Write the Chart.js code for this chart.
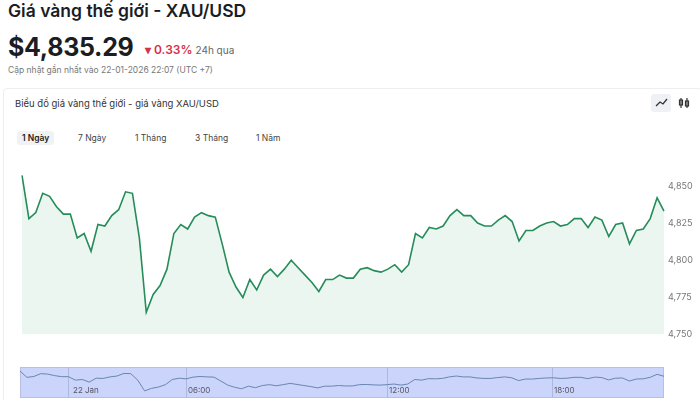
<!DOCTYPE html>
<html>
<head>
<meta charset="utf-8">
<script src="https://cdn.jsdelivr.net/npm/chart.js@4.4.0/dist/chart.umd.min.js"></script>
<style>
  body { margin: 0; width: 700px; height: 400px; overflow: hidden; font-family: Inter, "Noto Sans", sans-serif; background: #fff; color: #1a1d24; position: relative; }
  .abs { position: absolute; }
  #title { left: 8px; top: 0px; font-size: 17.5px; font-weight: 600; }
  #price { left: 8px; top: 32px; font-size: 25px; font-weight: 700; letter-spacing: -0.3px; }
  #chg { left: 145px; top: 42px; font-size: 12px; color: #d4324a; font-weight: 600; }
  #chg span { color: #666; font-weight: 400; font-size: 10px; }
  #upd { left: 8px; top: 65px; font-size: 8.5px; color: #777; }
  #card { left: 3px; top: 88px; width: 697px; height: 320px; border: 1px solid #eceef2; border-radius: 4px; }
  #cardtitle { left: 15px; top: 98px; font-size: 9.5px; color: #333; }
  .tab { top: 131px; font-size: 8.5px; color: #444; padding: 2px 5px; }
  #icons { left: 651px; top: 94px; width: 44px; height: 18px; }
  #main { left: 0; top: 160px; width: 700px; height: 184px; }
  #navwrap { left: 20px; top: 367px; width: 644px; height: 31px; background: #cbd4fa; border: 1px solid #b7c0e0; box-sizing: border-box; }
  #nav { left: 20px; top: 367px; width: 644px; height: 31px; }
  .nl { top: 385px; font-size: 8px; color: #556; }
  .nv { top: 367px; width: 1px; height: 31px; background: #aeb8dc; }
</style>
</head>
<body>
<div class="abs" id="title">Giá vàng thế giới - XAU/USD</div>
<div class="abs" id="price">$4,835.29</div>
<div class="abs" id="chg">▾ 0.33% <span>24h qua</span></div>
<div class="abs" id="upd">Cập nhật gần nhất vào 22-01-2026 22:07 (UTC +7)</div>
<div class="abs" id="card"></div>
<div class="abs" id="cardtitle">Biểu đồ giá vàng thế giới - giá vàng XAU/USD</div>
<div class="abs" id="icons">
  <svg width="44" height="18"><rect x="0" y="0" width="20" height="18" rx="3" fill="#f0f1f4"/><polyline points="5,12 9,8 12,10 16,5" fill="none" stroke="#333" stroke-width="1.3"/><g stroke="#333" stroke-width="1.2" fill="none"><line x1="30" y1="4" x2="30" y2="14"/><rect x="28.5" y="6" width="3" height="5"/><line x1="36" y1="4" x2="36" y2="14"/><rect x="34.5" y="7" width="3" height="5"/></g></svg>
</div>
<div class="abs tab" style="left:17px;background:#f1f2f4;border-radius:3px;font-weight:600;color:#222">1 Ngày</div>
<div class="abs tab" style="left:73px">7 Ngày</div>
<div class="abs tab" style="left:130px">1 Tháng</div>
<div class="abs tab" style="left:190px">3 Tháng</div>
<div class="abs tab" style="left:251px">1 Năm</div>
<div class="abs" id="main"><canvas id="priceChart"></canvas></div>
<div class="abs" id="navwrap"></div>
<div class="abs nv" style="left:68px"></div>
<div class="abs nv" style="left:186px"></div>
<div class="abs nv" style="left:387px"></div>
<div class="abs nv" style="left:552px"></div>
<div class="abs" id="nav"><canvas id="navChart"></canvas></div>
<div class="abs nl" style="left:73px">22 Jan</div>
<div class="abs nl" style="left:188px">06:00</div>
<div class="abs nl" style="left:389px">12:00</div>
<div class="abs nl" style="left:554px">18:00</div>
<script>
var prices = [4857, 4828, 4832, 4845, 4843, 4836, 4831, 4831, 4815, 4818, 4806, 4824, 4823, 4830, 4834, 4846, 4845, 4815, 4765, 4777, 4783, 4794, 4818, 4824, 4821, 4829, 4832, 4830, 4829, 4811, 4792, 4782, 4775, 4787, 4780, 4790, 4794, 4789, 4794, 4800, 4795, 4790, 4785, 4779, 4787, 4787, 4790, 4788, 4788, 4794, 4795, 4793, 4792, 4794, 4797, 4792, 4797, 4818, 4815, 4822, 4821, 4823, 4830, 4834, 4830, 4830, 4825, 4823, 4823, 4827, 4830, 4826, 4813, 4820, 4820, 4823, 4825, 4826, 4823, 4824, 4828, 4828, 4822, 4829, 4827, 4816, 4824, 4825, 4811, 4820, 4821, 4828, 4842, 4833];
var labels = prices.map(function(p, i) { return i; });
var yTicks = [4750, 4775, 4800, 4825, 4850];
var green = 'rgb(38, 140, 90)';

function init() {
    new Chart(document.getElementById('priceChart'), {
        type: 'line',
        data: {
            labels: labels,
            datasets: [{
                data: prices,
                borderColor: green,
                borderWidth: 1.6,
                backgroundColor: 'rgba(38, 160, 100, 0.09)',
                fill: 'start',
                pointRadius: 0,
                tension: 0
            }]
        },
        options: {
            responsive: false,
            animation: false,
            layout: { padding: { left: 22, right: 4, top: 11, bottom: 0 } },
            plugins: { legend: { display: false }, tooltip: { enabled: false } },
            scales: {
                x: { display: false, offset: false },
                y: {
                    position: 'right',
                    min: 4750, max: 4860,
                    afterBuildTicks: function(s) { s.ticks = yTicks.map(function(v) { return { value: v }; }); },
                    afterFit: function(s) { s.width = 32; },
                    grid: { display: false, drawTicks: false, tickLength: 0 },
                    border: { display: false },
                    ticks: { color: '#777', font: { size: 9, family: 'Inter' }, padding: 4 }
                }
            }
        }
    });

    new Chart(document.getElementById('navChart'), {
        type: 'line',
        data: {
            labels: labels,
            datasets: [{
                data: prices,
                borderColor: '#6a86b0',
                borderWidth: 1,
                pointRadius: 0,
                fill: false
            }]
        },
        options: {
            responsive: false,
            animation: false,
            layout: { padding: { top: 3, bottom: 6 } },
            plugins: { legend: { display: false }, tooltip: { enabled: false } },
            scales: { x: { display: false }, y: { display: false, min: 4760, max: 4862 } }
        }
    });
}

document.getElementById('priceChart').width = 700;
document.getElementById('priceChart').height = 184;
document.getElementById('navChart').width = 644;
document.getElementById('navChart').height = 31;
init();
</script>
</body>
</html>
